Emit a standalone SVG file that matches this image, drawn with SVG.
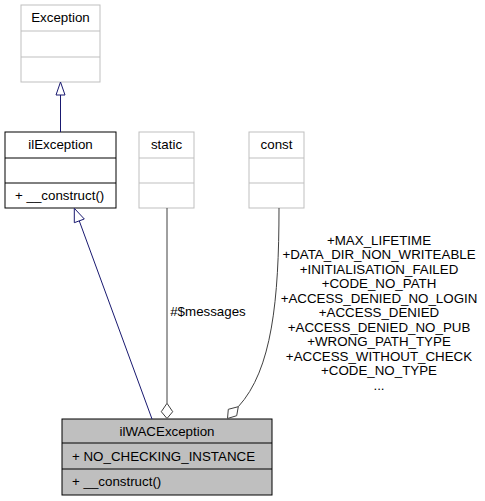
<svg xmlns="http://www.w3.org/2000/svg" width="485" height="501" viewBox="0 0 485 501">
<style>
text{font-family:"Liberation Sans",Arial,sans-serif;font-size:13.33px;fill:#000}
.c{text-anchor:middle}
.gb{fill:#fff;stroke:#bfbfbf;stroke-width:1}
.bb{fill:#fff;stroke:#000;stroke-width:1}
.sb{fill:#bfbfbf;stroke:#000;stroke-width:1}
.inh{fill:none;stroke:#191970;stroke-width:1}
.tri{fill:#fff;stroke:#191970;stroke-width:1}
.agg{fill:none;stroke:#404040;stroke-width:1}
.dia{fill:#fff;stroke:#404040;stroke-width:1}
</style>
<rect width="485" height="501" fill="#fff"/>
<g id="node-Exception">
<rect class="gb" x="21" y="5" width="79" height="77"/>
<line class="gb" x1="21" y1="31" x2="100" y2="31"/>
<line class="gb" x1="21" y1="57" x2="100" y2="57"/>
<text class="c" x="60.5" y="21.5">Exception</text>
</g>
<g id="node-ilException">
<rect class="bb" x="5" y="132" width="111" height="76"/>
<line class="bb" x1="5" y1="158" x2="116" y2="158"/>
<line class="bb" x1="5" y1="183" x2="116" y2="183"/>
<text class="c" x="60.5" y="148.5">ilException</text>
<text x="15" y="199.5">+ __construct()</text>
</g>
<g id="node-static">
<rect class="gb" x="139" y="132" width="55" height="76"/>
<line class="gb" x1="139" y1="158" x2="194" y2="158"/>
<line class="gb" x1="139" y1="183" x2="194" y2="183"/>
<text class="c" x="166.5" y="148.5">static</text>
</g>
<g id="node-const">
<rect class="gb" x="249" y="132" width="55" height="76"/>
<line class="gb" x1="249" y1="158" x2="304" y2="158"/>
<line class="gb" x1="249" y1="183" x2="304" y2="183"/>
<text class="c" x="276.5" y="148.5">const</text>
</g>
<g id="node-ilWACException">
<rect class="sb" x="62" y="419" width="210" height="76"/>
<line class="sb" x1="62" y1="443" x2="272" y2="443"/>
<line class="sb" x1="62" y1="469" x2="272" y2="469"/>
<text class="c" x="167" y="435.5">ilWACException</text>
<text x="72" y="460.5">+ NO_CHECKING_INSTANCE</text>
<text x="72" y="486">+ __construct()</text>
</g>
<g id="connectors">
<line class="inh" x1="60.5" y1="95" x2="60.5" y2="132"/>
<polygon class="tri" points="60.5,82 56,95 65,95"/>
<line class="inh" x1="152" y1="419" x2="79.3" y2="221"/>
<polygon class="tri" points="74.3,208.3 74.3,222.7 84.3,219"/>
<line class="agg" x1="167" y1="208" x2="167" y2="403.3"/>
<polygon class="dia" points="167,403.3 172.7,411.7 167,418.5 161.3,411.7"/>
<path class="agg" d="M279,208 C279,300 272,370 238.3,406.7"/>
<polygon class="dia" points="238.3,406.7 236.7,415.7 227.5,418.5 228.3,409.3"/>
<text class="c" x="208" y="316">#$messages</text>
<text class="c" x="379" y="244.5">+MAX_LIFETIME</text>
<text class="c" x="379" y="259">+DATA_DIR_NON_WRITEABLE</text>
<text class="c" x="379" y="273.5">+INITIALISATION_FAILED</text>
<text class="c" x="379" y="288">+CODE_NO_PATH</text>
<text class="c" x="379" y="302.5">+ACCESS_DENIED_NO_LOGIN</text>
<text class="c" x="379" y="317">+ACCESS_DENIED</text>
<text class="c" x="379" y="331.5">+ACCESS_DENIED_NO_PUB</text>
<text class="c" x="379" y="346">+WRONG_PATH_TYPE</text>
<text class="c" x="379" y="360.5">+ACCESS_WITHOUT_CHECK</text>
<text class="c" x="379" y="375">+CODE_NO_TYPE</text>
<text class="c" x="379" y="389.5">...</text>
</g>
</svg>
